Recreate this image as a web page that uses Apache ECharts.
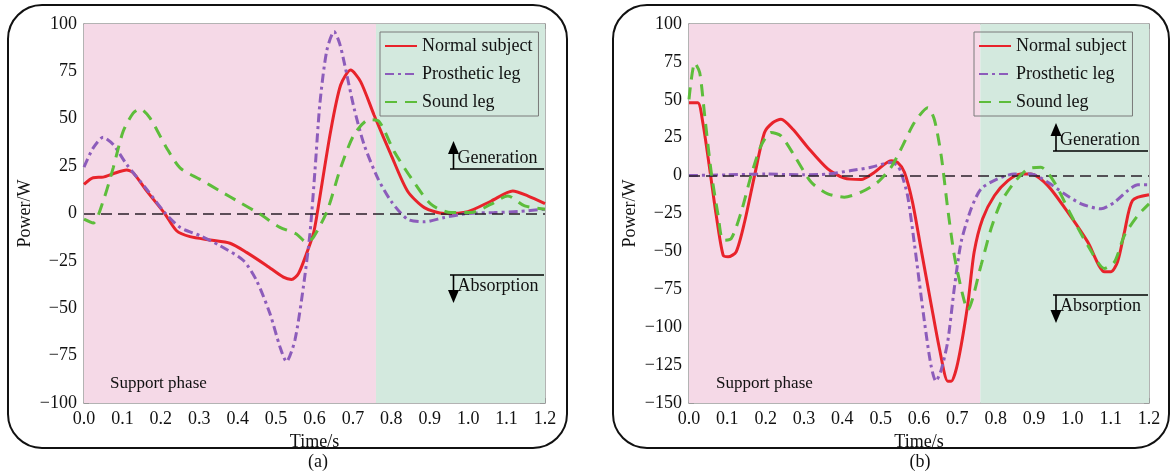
<!DOCTYPE html>
<html><head><meta charset="utf-8">
<script src="https://cdn.jsdelivr.net/npm/echarts@6/dist/echarts.min.js"></script>
<style>html,body{margin:0;padding:0;background:#fff}#c{width:1171px;height:474px}</style>
</head><body><div id="c"></div>
<script>
// ---------- data ----------
const seriesNames = ['Normal subject', 'Prosthetic leg', 'Sound leg'];
const xTicks = [0, 0.1, 0.2, 0.3, 0.4, 0.5, 0.6, 0.7, 0.8, 0.9, 1.0, 1.1, 1.2];
const supportEnd = 0.76;

// (a)
const aNormalT = [0, 0.024, 0.05, 0.076, 0.111, 0.128, 0.163, 0.21, 0.241, 0.276, 0.328, 0.38, 0.423, 0.475, 0.519, 0.54, 0.558, 0.579, 0.597, 0.607, 0.642, 0.668, 0.694, 0.72, 0.755, 0.799, 0.842, 0.886, 0.938, 0.999, 1.06, 1.116, 1.155, 1.2];
const aNormalV = [15.4, 18.9, 19.2, 21, 22.9, 21.5, 11.9, 0, -9.1, -12.2, -14, -15.7, -20.5, -27.4, -33.6, -34.8, -31.8, -21.3, -10.8, 0, 43.4, 67.8, 75.7, 69.6, 52, 31.1, 11.9, 3.1, 0, 1, 6.6, 11.9, 9.3, 5.2];
const aProsT = [0, 0.024, 0.05, 0.076, 0.111, 0.163, 0.21, 0.25, 0.302, 0.354, 0.415, 0.449, 0.484, 0.51, 0.527, 0.549, 0.571, 0.588, 0.601, 0.614, 0.632, 0.651, 0.665, 0.677, 0.703, 0.729, 0.764, 0.799, 0.842, 0.886, 0.938, 0.999, 1.068, 1.129, 1.2];
const aProsV = [24.5, 34.6, 40.2, 36.4, 25.9, 12.8, 0.5, -7.3, -11.7, -17, -24.8, -35.3, -52.8, -70.3, -78.1, -66.8, -38.8, -10.8, 22, 58, 86, 96, 90, 80, 55.6, 36.4, 18.9, 6.6, -3, -4.4, -2.1, 0, 0.5, 1, 2.3];
const aSoundT = [0, 0.024, 0.05, 0.076, 0.102, 0.128, 0.146, 0.172, 0.215, 0.25, 0.302, 0.354, 0.406, 0.458, 0.51, 0.553, 0.579, 0.597, 0.633, 0.668, 0.703, 0.742, 0.768, 0.807, 0.851, 0.903, 0.955, 1.007, 1.06, 1.103, 1.147, 1.2];
const aSoundV = [-3, -5, 6.6, 24.1, 43.4, 53, 55.2, 50.3, 34.6, 24.1, 18, 11.9, 5.8, -0.3, -7.3, -10.8, -15.2, -12.6, 1.4, 24.1, 41.6, 49.5, 48.6, 32.9, 18.9, 4.9, 0.5, 0.5, 4.9, 9.3, 4, 2.3];

// (b)
const bNormalT = [0, 0.023, 0.036, 0.054, 0.071, 0.089, 0.102, 0.123, 0.145, 0.171, 0.197, 0.219, 0.24, 0.271, 0.31, 0.362, 0.405, 0.449, 0.484, 0.527, 0.544, 0.562, 0.583, 0.605, 0.632, 0.653, 0.675, 0.684, 0.701, 0.727, 0.744, 0.766, 0.797, 0.832, 0.866, 0.892, 0.936, 0.988, 1.04, 1.084, 1.101, 1.118, 1.136, 1.157, 1.2];
const bNormalV = [48.1, 48.1, 35, 4.4, -26.2, -52.5, -53.6, -50.3, -30.6, 0, 28.4, 35, 37.2, 30.6, 18.6, 4.4, -1.7, -2.6, 2.2, 9.8, 8.7, 2.2, -17.5, -48, -85.3, -113.7, -135.6, -135.6, -123.6, -85.3, -50.3, -28.4, -13.1, -3.3, 1.1, 1.1, -6.6, -24.1, -43.7, -63.4, -63.4, -56.9, -37.2, -16.4, -12.7];
const bProsT = [0, 0.1, 0.2, 0.3, 0.362, 0.423, 0.475, 0.527, 0.544, 0.553, 0.57, 0.588, 0.614, 0.631, 0.644, 0.657, 0.675, 0.692, 0.71, 0.736, 0.762, 0.805, 0.849, 0.892, 0.936, 0.979, 1.023, 1.075, 1.11, 1.145, 1.171, 1.2];
const bProsV = [0, 0.5, 1, 0.5, 1, 3.3, 5.5, 8.7, 6.6, 2.2, -13, -45, -96, -124.7, -135.6, -129, -109.4, -74.4, -43.7, -21.9, -8.7, -2.2, 1.1, 1.1, -4.4, -12, -18.6, -21.9, -17.5, -9.8, -6.1, -6.1];
const bSoundT = [0, 0.015, 0.028, 0.041, 0.058, 0.076, 0.089, 0.11, 0.136, 0.162, 0.188, 0.214, 0.24, 0.275, 0.319, 0.362, 0.405, 0.449, 0.492, 0.527, 0.553, 0.588, 0.623, 0.64, 0.658, 0.675, 0.692, 0.714, 0.727, 0.762, 0.788, 0.814, 0.849, 0.884, 0.918, 0.953, 0.997, 1.04, 1.084, 1.11, 1.136, 1.171, 1.2];
const bSoundV = [50.3, 74.4, 67.8, 39.4, 2.2, -26.2, -42.6, -41.6, -24.1, 0, 19.7, 28.4, 26.2, 13.1, -4.4, -12, -14.2, -10.9, -4.4, 5.5, 17.5, 35, 44.8, 37, 13, -22, -52.5, -78.7, -88.6, -59, -35, -17.5, -4.4, 4.4, 5.5, -4.4, -26.2, -45.9, -61.2, -56.9, -39.4, -26.2, -18.6];

const aYRange = [-100, 100];
const bYRange = [-150, 100];
const yStep = 25;

// ---------- styles ----------
const FONT = 'Liberation Serif';
const FS = 18;
const RED = '#e8232b', PURPLE = '#8c5cbb', GREEN = '#5dbd3b';
const PINK_BG = '#f5d9e7', GREEN_BG = '#d3e9de', AXIS = '#9a9a9a';
const lineStyles = [
  {color: RED, width: 3, type: 'solid'},
  {color: PURPLE, width: 3, type: [9, 4, 3, 4]},
  {color: GREEN, width: 3, type: [12, 8]}
];
const pairs = (t, v) => t.map((x, i) => [x, v[i]]);
const yFmt = v => v < 0 ? '\u2212' + Math.abs(v) : String(v);

function xAxes(grid) {
  const base = {type: 'value', gridIndex: grid, min: 0, max: 1.2, interval: 0.1,
    axisLine: {show: true, onZero: false, lineStyle: {color: AXIS, width: 1.5}},
    axisTick: {show: true, inside: true, length: 5, lineStyle: {color: AXIS}},
    splitLine: {show: false}};
  return [
    Object.assign({}, base, {position: 'bottom',
      axisLabel: {fontFamily: FONT, fontSize: FS, color: '#111', margin: 7, formatter: v => v.toFixed(1)},
      name: 'Time/s', nameLocation: 'middle', nameGap: 25,
      nameTextStyle: {fontFamily: FONT, fontSize: FS, color: '#111'}}),
    Object.assign({}, base, {position: 'top', axisLabel: {show: false}})
  ];
}
function yAxes(grid, range) {
  const base = {type: 'value', gridIndex: grid, min: range[0], max: range[1], interval: yStep,
    axisLine: {show: true, onZero: false, lineStyle: {color: AXIS, width: 1.5}},
    axisTick: {show: true, inside: true, length: 5, lineStyle: {color: AXIS}},
    splitLine: {show: false}};
  return [
    Object.assign({}, base, {position: 'left',
      axisLabel: {fontFamily: FONT, fontSize: FS, color: '#111', margin: 7, formatter: yFmt},
      name: 'Power/W', nameLocation: 'middle', nameGap: 50, nameRotate: 90,
      nameTextStyle: {fontFamily: FONT, fontSize: FS, color: '#111'}}),
    Object.assign({}, base, {position: 'right', axisLabel: {show: false}})
  ];
}
function bgSeries(xi, yi) {
  return {type: 'line', name: 'bg', xAxisIndex: xi, yAxisIndex: yi, data: [], z: 1, silent: true,
    markArea: {silent: true, data: [
      [{xAxis: 0, itemStyle: {color: PINK_BG}}, {xAxis: supportEnd}],
      [{xAxis: supportEnd, itemStyle: {color: GREEN_BG}}, {xAxis: 1.2}]
    ]},
    markLine: {silent: true, symbol: 'none', label: {show: false},
      lineStyle: {color: '#2a1f2a', width: 1.6, type: [11, 6]}, data: [{yAxis: 0}]}
  };
}
function dataSeries(xi, yi, sets) {
  return sets.map((d, i) => ({type: 'line', name: seriesNames[i], xAxisIndex: xi, yAxisIndex: yi,
    data: pairs(d[0], d[1]), symbol: 'none', showSymbol: false, smooth: 0.25, z: 3 + i,
    lineStyle: lineStyles[i], itemStyle: {color: lineStyles[i].color}}));
}
function legend(left) {
  return {left: left, top: 32, orient: 'vertical', itemWidth: 32, itemHeight: 12, itemGap: 10,
    padding: [5, 6, 5, 4], borderColor: '#7a7a7a', borderWidth: 1, data: seriesNames,
    itemStyle: {color: 'rgba(0,0,0,0)', borderColor: 'rgba(0,0,0,0)', borderWidth: 0, opacity: 0},
    textStyle: {fontFamily: FONT, fontSize: FS, color: '#111'}, selectedMode: false};
}
function annot(cfg) {
  const els = [];
  const ls = {stroke: '#000', lineWidth: 1.6};
  const Z = 20;
  els.push({type: 'line', z: Z, shape: {x1: cfg.x0, y1: cfg.gy, x2: cfg.x1, y2: cfg.gy}, style: ls});
  els.push({type: 'line', z: Z, shape: {x1: cfg.ax, y1: cfg.gy, x2: cfg.ax, y2: cfg.gy - 16}, style: ls});
  els.push({type: 'polygon', z: Z, shape: {points: [[cfg.ax - 5.5, cfg.gy - 15], [cfg.ax + 5.5, cfg.gy - 15], [cfg.ax, cfg.gy - 28]]}, style: {fill: '#000'}});
  els.push({type: 'text', z: Z, style: {text: 'Generation', x: cfg.ax + 4, y: cfg.gy - 11, font: FS + 'px "' + FONT + '"', fill: '#111', textVerticalAlign: 'middle'}});
  els.push({type: 'line', z: Z, shape: {x1: cfg.x0, y1: cfg.ay, x2: cfg.x1, y2: cfg.ay}, style: ls});
  els.push({type: 'line', z: Z, shape: {x1: cfg.ax, y1: cfg.ay, x2: cfg.ax, y2: cfg.ay + 16}, style: ls});
  els.push({type: 'polygon', z: Z, shape: {points: [[cfg.ax - 5.5, cfg.ay + 15], [cfg.ax + 5.5, cfg.ay + 15], [cfg.ax, cfg.ay + 28]]}, style: {fill: '#000'}});
  els.push({type: 'text', z: Z, style: {text: 'Absorption', x: cfg.ax + 4, y: cfg.ay + 11, font: FS + 'px "' + FONT + '"', fill: '#111', textVerticalAlign: 'middle'}});
  return els;
}

const chart = echarts.init(document.getElementById('c'), null, {renderer: 'canvas'});
const graphics = [
  {type: 'rect', shape: {x: 8, y: 5, width: 559, height: 443, r: 34}, style: {fill: 'none', stroke: '#111', lineWidth: 2}, z: -10},
  {type: 'rect', shape: {x: 613, y: 5, width: 556, height: 443, r: 34}, style: {fill: 'none', stroke: '#111', lineWidth: 2}, z: -10},
  {type: 'text', style: {text: '(a)', x: 318, y: 462, font: FS + 'px "' + FONT + '"', fill: '#111', textAlign: 'center', textVerticalAlign: 'middle'}},
  {type: 'text', style: {text: '(b)', x: 920, y: 462, font: FS + 'px "' + FONT + '"', fill: '#111', textAlign: 'center', textVerticalAlign: 'middle'}},
  {type: 'text', z: 20, style: {text: 'Support phase', x: 110, y: 384, font: '17px "' + FONT + '"', fill: '#111', textVerticalAlign: 'middle'}},
  {type: 'text', z: 20, style: {text: 'Support phase', x: 716, y: 384, font: '17px "' + FONT + '"', fill: '#111', textVerticalAlign: 'middle'}}
].concat(annot({x0: 450, x1: 544, ax: 453.5, gy: 169, ay: 275}))
 .concat(annot({x0: 1053, x1: 1148, ax: 1056, gy: 151, ay: 295}));

chart.setOption({
  animation: false,
  backgroundColor: '#fff',
  grid: [
    {left: 84, top: 24, width: 461, height: 379, containLabel: false},
    {left: 689, top: 24, width: 460, height: 379, containLabel: false}
  ],
  xAxis: xAxes(0).concat(xAxes(1)),
  yAxis: yAxes(0, aYRange).concat(yAxes(1, bYRange)),
  legend: [legend(380), legend(974)],
  series: [bgSeries(0, 0)]
    .concat(dataSeries(0, 0, [[aNormalT, aNormalV], [aProsT, aProsV], [aSoundT, aSoundV]]))
    .concat([bgSeries(2, 2)])
    .concat(dataSeries(2, 2, [[bNormalT, bNormalV], [bProsT, bProsV], [bSoundT, bSoundV]])),
  graphic: graphics
});
</script></body></html>
